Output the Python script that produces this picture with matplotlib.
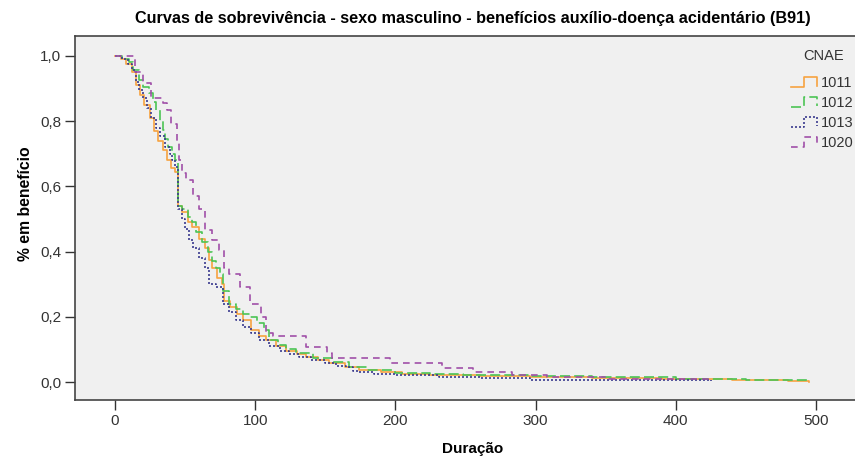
import matplotlib
matplotlib.use("Agg")
import matplotlib.pyplot as plt
from matplotlib.lines import Line2D
from matplotlib.legend_handler import HandlerBase
from matplotlib.ticker import FuncFormatter

# Kaplan-Meier estimates (duration, survival after that duration)
dur_1011 = [0, 4, 8, 12, 15, 18, 21, 25, 28, 31, 34, 37, 40, 43, 45, 48, 52, 55, 60, 64, 67,
            69, 73, 76, 78, 82, 87, 91, 97, 103, 108, 115, 122, 130, 136, 145, 153, 164, 174,
            190, 205, 224, 260, 296, 340, 390, 440, 480, 495]
surv_1011 = [1.0, 0.99, 0.975, 0.95, 0.91, 0.88, 0.85, 0.81, 0.77, 0.74, 0.71, 0.68, 0.655,
             0.645, 0.54, 0.52, 0.49, 0.475, 0.44, 0.41, 0.375, 0.35, 0.32, 0.30, 0.25, 0.23,
             0.21, 0.19, 0.16, 0.14, 0.13, 0.11, 0.095, 0.085, 0.077, 0.067, 0.058, 0.045,
             0.037, 0.03, 0.025, 0.021, 0.018, 0.015, 0.011, 0.008, 0.005, 0.002, 0.001]

dur_1012 = [0, 5, 10, 13, 17, 20, 24, 27, 29, 32, 34, 36, 38, 41, 43, 45, 48, 52, 55, 58, 62,
            66, 69, 72, 75, 77, 81, 86, 91, 96, 101, 106, 110, 116, 122, 129, 141, 155, 167,
            180, 200, 225, 248, 296, 340, 400, 450, 495]
surv_1012 = [1.0, 0.99, 0.98, 0.957, 0.926, 0.905, 0.887, 0.86, 0.834, 0.80, 0.773, 0.745,
             0.72, 0.70, 0.68, 0.54, 0.53, 0.505, 0.49, 0.46, 0.43, 0.40, 0.37, 0.35, 0.33,
             0.28, 0.24, 0.225, 0.21, 0.20, 0.18, 0.16, 0.13, 0.115, 0.10, 0.089, 0.074, 0.06,
             0.046, 0.037, 0.028, 0.024, 0.021, 0.018, 0.014, 0.01, 0.006, 0.002]

dur_1013 = [0, 5, 9, 12, 15, 17, 20, 23, 26, 29, 32, 36, 39, 41, 43, 45, 48, 50, 53, 56, 60,
            64, 67, 72, 77, 81, 86, 91, 97, 103, 110, 118, 124, 131, 140, 150, 158, 165, 170,
            174, 185, 200, 231, 260, 296, 350, 425]
surv_1013 = [1.0, 0.99, 0.975, 0.957, 0.92, 0.896, 0.87, 0.84, 0.81, 0.78, 0.755, 0.72, 0.70,
             0.68, 0.66, 0.53, 0.50, 0.47, 0.435, 0.41, 0.38, 0.35, 0.30, 0.29, 0.24, 0.215,
             0.19, 0.17, 0.15, 0.13, 0.11, 0.095, 0.085, 0.077, 0.068, 0.058, 0.05, 0.046,
             0.035, 0.031, 0.025, 0.021, 0.015, 0.012, 0.006, 0.005, 0.004]

dur_1020 = [0, 14, 20, 26, 34, 37, 40, 44, 46, 48, 51, 56, 60, 64, 69, 74, 78, 81, 89, 96,
            104, 108, 113, 136, 142, 151, 155, 196, 233, 255, 283, 308, 350, 425]
surv_1020 = [1.0, 0.95, 0.917, 0.87, 0.855, 0.834, 0.79, 0.74, 0.68, 0.64, 0.62, 0.57, 0.53,
             0.466, 0.435, 0.405, 0.35, 0.33, 0.29, 0.24, 0.20, 0.15, 0.14, 0.107, 0.107,
             0.09, 0.074, 0.058, 0.043, 0.03, 0.021, 0.015, 0.01, 0.01]

groups = ["1011", "1012", "1013", "1020"]
durations = [dur_1011, dur_1012, dur_1013, dur_1020]
survival = [surv_1011, surv_1012, surv_1013, surv_1020]

colors = ["#f7a340", "#4cc454", "#3a3a8e", "#a050a8"]
styles = ["-", (0, (6, 2.5)), (0, (1.2, 1.2)), (0, (4, 3))]

plt.rcParams["font.family"] = ["Liberation Sans", "DejaVu Sans"]


class StepHandler(HandlerBase):
    # legend glyph shaped like a small step, as in the source chart
    def create_artists(self, legend, orig_handle, xdescent, ydescent, width, height,
                       fontsize, trans):
        xs = [0, 0.5 * width, 0.5 * width, width, width]
        ys = [0.0, 0.0, 1.0 * height, 1.0 * height, 0.1 * height]
        line = Line2D([x - xdescent for x in xs], [y - ydescent for y in ys])
        line.update_from(orig_handle)
        line.set_transform(trans)
        return [line]


fig = plt.figure(figsize=(8.55, 4.59), dpi=100)
# plot area runs past the right edge of the picture, as in the source
ax = fig.add_axes([75 / 855, 59 / 459, 795 / 855, 364 / 459])
ax.set_facecolor("#f0f0f0")

handles = []
for g, d, s, c, ls in zip(groups, durations, survival, colors, styles):
    (ln,) = ax.step(d, s, where="post", color=c, linestyle=ls, linewidth=1.2, label=g)
    handles.append(ln)

ax.set_xlim(-28.5, 538.5)
ax.set_ylim(-0.055, 1.061)
ax.set_xticks([0, 100, 200, 300, 400, 500])
ax.set_yticks([0.0, 0.2, 0.4, 0.6, 0.8, 1.0])
ax.yaxis.set_major_formatter(FuncFormatter(lambda v, p: f"{v:.1f}".replace(".", ",")))
ax.tick_params(axis="both", direction="out", length=7, width=1, color="#333333",
               labelsize=11, labelcolor="#333333", pad=3)

for side in ["left", "bottom", "top"]:
    ax.spines[side].set_color("#444444")
    ax.spines[side].set_linewidth(1.2)
ax.spines["right"].set_visible(False)

ax.set_title("Curvas de sobrevivência - sexo masculino - benefícios auxílio-doença acidentário (B91)",
             fontsize=11.7, fontweight="bold", pad=9)
ax.set_xlabel("Duração", fontsize=11, fontweight="bold")
ax.set_ylabel("% em benefício", fontsize=11.3, fontweight="bold")
ax.xaxis.set_label_coords(0.5, -0.115)
ax.yaxis.set_label_coords(-0.053, 0.54)
ax.xaxis.label.set_va("top")

# legend title placed on its own, entries below it
fig.text(824 / 855, 1 - 56 / 459, "CNAE", ha="center", va="center", fontsize=10.5,
         color="#333333")
leg = fig.legend(handles, groups, loc="upper right",
                 bbox_to_anchor=(1.0047, 0.847), frameon=False, fontsize=10.5,
                 handler_map={Line2D: StepHandler()},
                 handlelength=1.75, handletextpad=0.25, labelspacing=0.41,
                 borderaxespad=0.0)
for t in leg.get_texts():
    t.set_color("#333333")

fig.savefig("out.png", dpi=100)
